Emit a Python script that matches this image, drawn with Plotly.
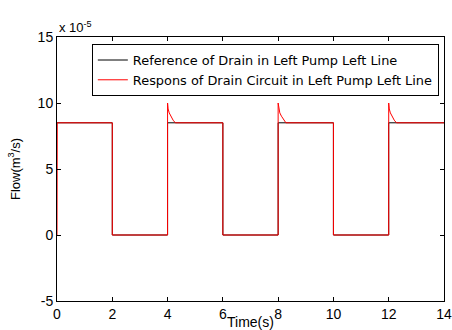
import plotly.graph_objects as go

# Values in units of 1e-5 m^3/s
ref_t = [0, 2, 2, 4, 4, 6, 6, 8, 8, 10, 10, 12, 12, 14]
ref_v = [8.5, 8.5, 0, 0, 8.5, 8.5, 0, 0, 8.5, 8.5, 0, 0, 8.5, 8.5]

resp_t = [0, 0.01, 2, 2, 4, 4, 4.02, 4.06, 4.12, 4.2, 4.28, 6, 6,
          8, 8, 8.02, 8.06, 8.12, 8.2, 8.28, 10, 10,
          12, 12, 12.02, 12.06, 12.12, 12.2, 12.28, 14]
resp_v = [0, 8.5, 8.5, 0, 0, 10.0, 9.55, 9.25, 9.0, 8.7, 8.5, 8.5, 0,
          0, 10.0, 9.55, 9.25, 9.0, 8.7, 8.5, 8.5, 0,
          0, 10.0, 9.55, 9.25, 9.0, 8.7, 8.5, 8.5]

x_ticks = [0, 2, 4, 6, 8, 10, 12, 14]
y_ticks = [-5, 0, 5, 10, 15]
y_ticktext = ["-5", "0", "5", "10", "15"]

font = "Liberation Sans, Arial, sans-serif"

fig = go.Figure()
fig.add_trace(go.Scatter(x=ref_t, y=ref_v, mode="lines",
                         line=dict(color="black", width=1),
                         name="Reference of Drain in Left Pump Left Line"))
fig.add_trace(go.Scatter(x=resp_t, y=resp_v, mode="lines",
                         line=dict(color="#ff0000", width=1),
                         name="Respons of Drain Circuit in Left Pump Left Line"))

axis_common = dict(showgrid=False, zeroline=False, showline=True, linecolor="black",
                   linewidth=1, mirror="ticks", ticks="inside", ticklen=4,
                   tickcolor="black", automargin=False,
                   tickfont=dict(family=font, size=14, color="black"))

fig.update_layout(
    width=452, height=330,
    margin=dict(l=57, r=8, t=37, b=29),
    plot_bgcolor="white", paper_bgcolor="white",
    font=dict(family=font, color="black"),
    xaxis=dict(range=[0, 14], tickvals=x_ticks,
               title=dict(text="Time(s)", font=dict(family=font, size=14), standoff=0),
               **axis_common),
    yaxis=dict(range=[-5, 15], tickvals=y_ticks, ticktext=y_ticktext,
               title=dict(text="Flow(m<sup>3</sup>/s)", font=dict(family=font, size=13), standoff=14),
               **axis_common),
    legend=dict(x=0.09, y=0.973, xanchor="left", yanchor="top",
                bgcolor="white", bordercolor="black", borderwidth=1,
                font=dict(family="DejaVu Sans, sans-serif", size=12.9, color="black"),
                tracegroupgap=0),
    showlegend=True,
)
fig.add_annotation(text="x 10<sup>-5</sup>", xref="paper", yref="paper",
                   x=0.0, y=1.0, xanchor="left", yanchor="bottom", showarrow=False,
                   font=dict(family=font, size=13, color="black"))
fig.write_html("out.html")
